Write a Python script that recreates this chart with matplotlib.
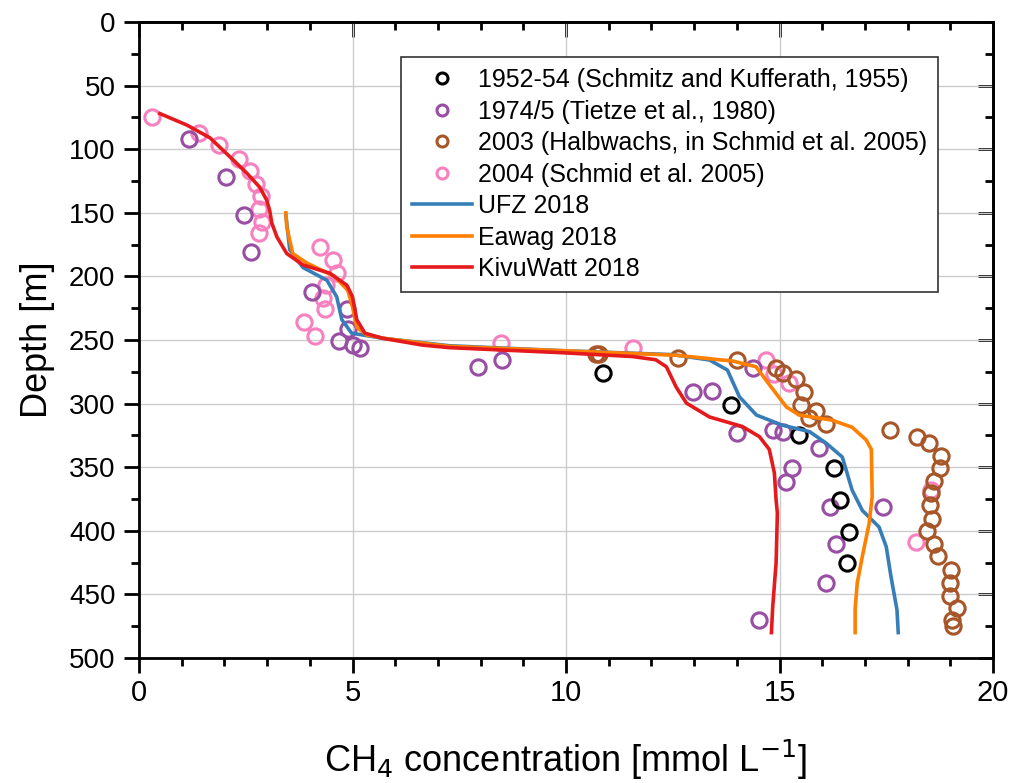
import numpy as np
import matplotlib.pyplot as plt
from matplotlib.ticker import MultipleLocator

plt.rcParams['font.family'] = ['Liberation Sans', 'DejaVu Sans']

# Point measurements: CH4 [mmol/L] and depth [m]
schmitz_ch4 = [10.86, 13.87, 15.46, 16.28, 16.42, 16.63, 16.59]
schmitz_depth = [276, 301, 325, 351, 376, 401, 425]

tietze_ch4 = [1.17, 2.04, 2.46, 2.62, 4.05, 4.87, 4.89, 4.68, 5.0, 5.17, 7.95, 8.5,
              12.97, 13.42, 14.39, 14.0, 14.85, 15.07, 15.93, 15.3, 15.16, 16.19,
              17.43, 16.33, 16.1, 14.53]
tietze_depth = [92, 122, 152, 181, 212, 226, 241, 251, 254, 256, 271, 266,
                291, 290, 272, 323, 321, 322, 335, 351, 362, 381,
                381, 410, 441, 470]

halbwachs_ch4 = [10.7, 10.78, 12.63, 14.01, 14.92, 15.07, 15.39, 15.58, 15.5, 15.86,
                 15.7, 16.09, 17.59, 18.22, 18.5, 18.79, 18.76, 18.62, 18.55, 18.53,
                 18.58, 18.46, 18.62, 18.72, 19.02, 18.99, 18.99, 19.16, 19.04, 19.06]
halbwachs_depth = [261, 261, 264, 266, 272, 276, 281, 291, 301, 306,
                   311, 316, 321, 326, 331, 341, 351, 361, 370, 380,
                   391, 400, 410, 420, 431, 441, 451, 461, 470, 475]

schmid_ch4 = [0.3, 1.4, 1.87, 2.34, 2.6, 2.74, 2.85, 2.81, 2.88, 2.81,
              4.23, 4.54, 4.63, 4.37, 4.3, 4.35, 3.86, 4.12, 8.47, 11.58,
              14.68, 14.87, 15.22, 18.55, 18.2]
schmid_depth = [75, 87, 97, 108, 117, 127, 137, 147, 157, 166,
                177, 187, 197, 207, 217, 226, 236, 247, 252, 256,
                266, 277, 284, 368, 409]

# 2018 profiles
ufz_ch4 = [3.44, 3.53, 3.84, 4.4, 4.63, 4.75, 4.98, 5.7, 7.27, 10.0, 12.5, 13.36,
           13.78, 14.06, 14.46, 15.07, 15.7, 16.09, 16.47, 16.7, 16.94, 17.33,
           17.5, 17.61, 17.75, 17.78]
ufz_depth = [152, 179, 193, 203, 216, 234, 244.6, 248.6, 254.5, 258.5, 261.5, 265.7,
             273.6, 294.6, 309, 317, 322, 331, 342, 368, 384, 397,
             412.6, 436, 462, 480]

eawag_ch4 = [3.44, 3.46, 3.6, 3.93, 4.58, 4.89, 5.0, 5.1, 5.33, 5.8, 7.27, 10.0,
             12.6, 13.59, 13.9, 14.45, 14.76, 15.16, 15.46, 16.23, 16.7, 17.03,
             17.15, 17.17, 17.1, 16.94, 16.82, 16.77, 16.77]
eawag_depth = [150, 161, 182, 189.5, 200, 211, 224, 240, 246, 249, 255, 258.5,
               262, 265.5, 266.5, 271, 285, 302.6, 309, 313, 318.6, 328.6,
               336, 373, 394, 420, 441, 462, 480]

kivuwatt_ch4 = [0.49, 1.12, 1.66, 2.13, 2.53, 2.83, 2.99, 3.06, 3.11, 3.23, 3.46,
                3.84, 4.47, 4.87, 5.0, 5.1, 5.29, 5.7, 6.64, 7.27, 9.92, 11.56,
                12.1, 12.35, 12.58, 12.82, 13.36, 14.13, 14.53, 14.76, 14.88,
                14.92, 14.95, 14.92, 14.84, 14.81]
kivuwatt_depth = [72, 81, 91, 106, 119, 130, 140, 148, 158, 169, 182,
                  191, 197.5, 207, 216, 234, 244.6, 248.6, 254, 256, 260, 263,
                  265.5, 271, 287, 299.6, 310.5, 318, 326, 336, 354.6,
                  376, 386, 425, 460, 480]

fig = plt.figure(figsize=(10.16, 7.83), dpi=100)
ax = fig.add_axes([0.1368, 0.1596, 0.8406, 0.8123])

mk = dict(linestyle='none', marker='o', markersize=11, markerfacecolor='none',
          markeredgewidth=2.2)
ax.plot(schmitz_ch4, schmitz_depth, color='black', label='1952-54 (Schmitz and Kufferath, 1955)', zorder=5, **mk)
ax.plot(tietze_ch4, tietze_depth, color='#984ea3', label='1974/5 (Tietze et al., 1980)', zorder=4, **mk)
ax.plot(halbwachs_ch4, halbwachs_depth, color='#a65628', label='2003 (Halbwachs, in Schmid et al. 2005)', zorder=4, **mk)
ax.plot(schmid_ch4, schmid_depth, color='#f781bf', label='2004 (Schmid et al. 2005)', zorder=3, **mk)

ax.plot(ufz_ch4, ufz_depth, color='#377eb8', lw=2.6, label='UFZ 2018', zorder=6)
ax.plot(eawag_ch4, eawag_depth, color='#ff7f00', lw=2.6, label='Eawag 2018', zorder=6)
ax.plot(kivuwatt_ch4, kivuwatt_depth, color='#e41a1c', lw=2.6, label='KivuWatt 2018', zorder=7)

ax.set_xlim(0, 20)
ax.set_ylim(500, 0)
ax.xaxis.set_major_locator(MultipleLocator(5))
ax.xaxis.set_minor_locator(MultipleLocator(1))
ax.yaxis.set_major_locator(MultipleLocator(50))
ax.yaxis.set_minor_locator(MultipleLocator(25))
ax.grid(True, which='major', color='#cccccc', lw=1)
ax.set_axisbelow(True)

for s in ax.spines.values():
    s.set_linewidth(2)
ax.tick_params(which='major', length=11, width=2, labelsize=20, pad=6)
ax.tick_params(which='minor', length=6, width=2)
ax.tick_params(axis='x', labelsize=21, pad=4)
ax.tick_params(which='both', top=False, right=False, direction='out')

# mirrored ticks on top/right point inward
sec_x = ax.secondary_xaxis('top')
sec_x.xaxis.set_major_locator(MultipleLocator(5))
sec_x.xaxis.set_minor_locator(MultipleLocator(1))
sec_x.tick_params(which='major', direction='in', length=11, width=2, labeltop=False)
sec_x.tick_params(which='minor', direction='in', length=6, width=2)
sec_x.spines['top'].set_linewidth(2)
sec_y = ax.secondary_yaxis('right')
sec_y.yaxis.set_major_locator(MultipleLocator(50))
sec_y.yaxis.set_minor_locator(MultipleLocator(25))
sec_y.tick_params(which='major', direction='in', length=11, width=2, labelright=False)
sec_y.tick_params(which='minor', direction='in', length=6, width=2)
sec_y.spines['right'].set_linewidth(2)

ax.set_xlabel(r'CH$_4$ concentration [mmol L$^{-1}$]', fontsize=26, labelpad=22)
ax.set_ylabel('Depth [m]', fontsize=26, labelpad=10)

leg = ax.legend(loc='upper right', bbox_to_anchor=(0.936, 0.945), borderaxespad=0,
                fontsize=18, frameon=True, fancybox=False, edgecolor='#333333',
                framealpha=1, markerscale=0.72, handlelength=2.4, labelspacing=0.3,
                borderpad=0.45, handletextpad=0.25)
leg.get_frame().set_linewidth(1.2)

fig.savefig('out.png', dpi=100)
